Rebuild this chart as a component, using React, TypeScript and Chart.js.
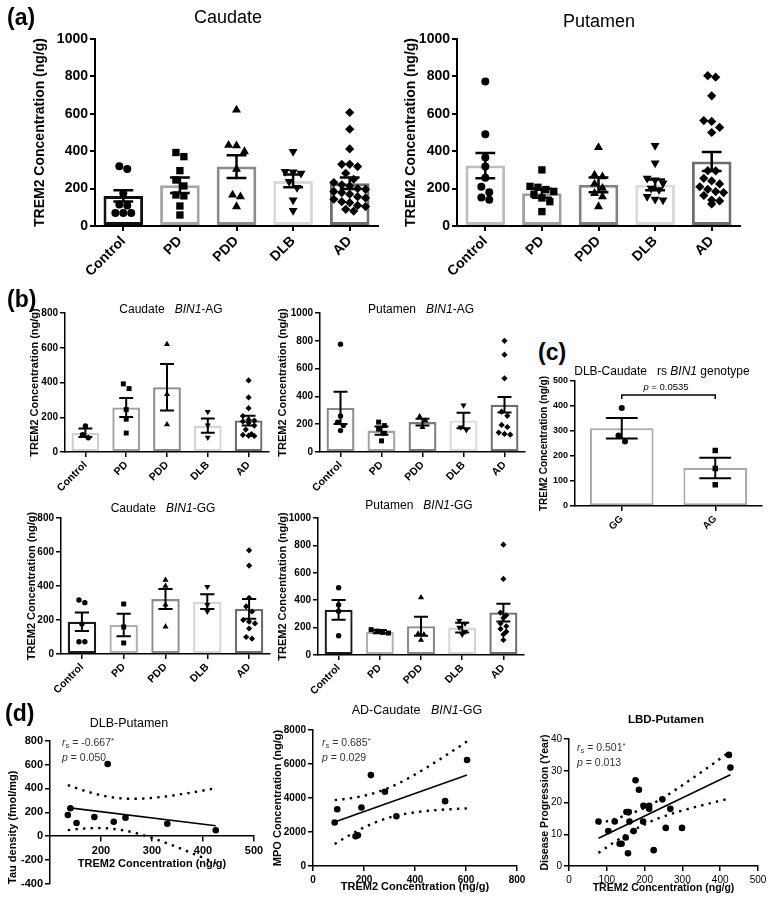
import React, { useEffect, useRef } from 'react';
import { Chart, registerables } from 'chart.js';
Chart.register(...registerables);

const FONT = "'Liberation Sans', Arial, Helvetica, sans-serif";

// ---------- shared categories ----------
const GROUPS = ['Control', 'PD', 'PDD', 'DLB', 'AD'];
const GROUP_STYLES = ['circle', 'rect', 'triangle', 'triangle', 'rectRot'];
const GROUP_ROT = [0, 0, 0, 180, 0];
const TREM2_TITLE = 'TREM2 Concentration (ng/g)';

// ---------- (a) Caudate ----------
const aCaudPts = [
  [320, 305, 175, 115, 110, 70, 70, 70],
  [393, 371, 296, 246, 214, 166, 161, 107, 59],
  [621, 432, 430, 398, 304, 166, 157, 104],
  [398, 291, 288, 282, 238, 205, 139, 82],
  [607, 518, 412, 330, 330, 318, 282, 250, 232, 220, 214, 200, 196, 185, 179, 170, 157, 150, 143, 130, 125, 110, 104, 89, 80],
];
const aCaudMean = [161, 218, 318, 241, 229];
const aCaudSem = [30, 41, 61, 34, 31];
const aCaudColors = ['#111111', '#a6a6a6', '#8c8c8c', '#d9d9d9', '#6e6e6e'];

// ---------- (a) Putamen ----------
const aPutPts = [
  [773, 491, 366, 318, 258, 210, 180, 152, 140],
  [300, 212, 207, 195, 185, 170, 150, 130, 77],
  [420, 273, 264, 225, 202, 175, 157, 104],
  [430, 336, 255, 246, 229, 202, 193, 157, 143, 139],
  [804, 796, 696, 564, 559, 527, 500, 296, 295, 255, 241, 225, 210, 196, 184, 179, 163, 139, 134, 118],
];
const aPutMean = [323, 175, 220, 220, 345];
const aPutSem = [67, 24, 40, 29, 51];
const aPutColors = ['#bdbdbd', '#a0a0a0', '#808080', '#d9d9d9', '#6e6e6e'];

// ---------- (b) Caudate BIN1-AG ----------
const bCaudAGPts = [
  [150, 100, 82],
  [392, 365, 244, 189, 109],
  [620, 332, 158],
  [232, 154, 84],
  [412, 314, 252, 207, 185, 181, 176, 168, 152, 129, 103, 98, 94, 92],
];
const bCaudAGMean = [111, 256, 373, 152, 181];
const bCaudAGSem = [24, 55, 134, 41, 28];
const bCaudAGColors = ['#cfcfcf', '#a0a0a0', '#8a8a8a', '#d4d4d4', '#6e6e6e'];

// ---------- (b) Putamen BIN1-AG ----------
const bPutAGPts = [
  [776, 259, 215, 190, 154],
  [215, 190, 165, 135, 80],
  [256, 227, 178],
  [337, 178, 159],
  [800, 700, 530, 290, 260, 195, 180, 140, 130, 125],
];
const bPutAGMean = [317, 154, 215, 227, 340];
const bPutAGSem = [116, 30, 25, 56, 55];
const bPutAGColors = ['#8a8a8a', '#a0a0a0', '#7a7a7a', '#dadada', '#6e6e6e'];

// ---------- (b) Caudate BIN1-GG ----------
const bCaudGGPts = [
  [318, 302, 176, 72, 72],
  [294, 159, 65],
  [435, 400, 290, 160],
  [396, 290, 250],
  [610, 520, 330, 280, 250, 200, 190, 180, 150, 100, 90],
];
const bCaudGGMean = [190, 171, 323, 308, 265];
const bCaudGGSem = [54, 66, 59, 44, 58];
const bCaudGGColors = ['#1a1a1a', '#b0b0b0', '#8a8a8a', '#d4d4d4', '#6e6e6e'];

// ---------- (b) Putamen BIN1-GG ----------
const bPutGGPts = [
  [491, 366, 320, 140],
  [185, 175, 165, 160],
  [420, 155, 150, 110],
  [250, 230, 200, 170, 150],
  [805, 555, 310, 290, 270, 230, 210, 190, 170, 150, 110],
];
const bPutGGMean = [330, 170, 210, 200, 310];
const bPutGGSem = [72, 12, 70, 35, 65];
const bPutGGColors = ['#1a1a1a', '#b0b0b0', '#8a8a8a', '#d4d4d4', '#6e6e6e'];

// ---------- (c) DLB-Caudate by genotype ----------
const cGenotypes = ['GG', 'AG'];
const cStyles = ['circle', 'rect'];
const cRot = [0, 0];
const cPts = [
  [392, 282, 258],
  [222, 150, 85],
];
const cMean = [311, 152];
const cSem = [41, 41];
const cColors = ['#a8a8a8', '#a8a8a8'];
const cBracketTop = 444;
const cBracketDrop = 428;

// ---------- (d) correlations ----------
const dDlbTrem2 = [135, 140, 152, 187, 213, 225, 248, 330, 425];
const dDlbTau = [178, 234, 110, 160, 604, 121, 154, 104, 50];

const dAdTrem2 = [85, 95, 167, 176, 190, 227, 282, 327, 518, 604];
const dAdMpo = [2556, 3342, 1750, 1809, 3440, 5348, 4365, 2929, 3814, 6232];

const dLbdTrem2 = [78, 104, 121, 134, 139, 150, 152, 156, 158, 160, 171, 176, 185, 196, 197, 212, 212, 224, 247, 256, 268, 299, 423, 427];
const dLbdYears = [14, 11, 14, 7, 7, 9, 17, 4, 17, 14, 11, 27, 24, 14, 19, 19, 18, 5, 21, 12, 18, 12, 35, 31];

// two-sided 95% t critical values by degrees of freedom
const T975 = [0, 12.706, 4.303, 3.182, 2.776, 2.571, 2.447, 2.365, 2.306, 2.262, 2.228, 2.201, 2.179, 2.16, 2.145, 2.131, 2.12, 2.11, 2.101, 2.093, 2.086, 2.08, 2.074, 2.069, 2.064, 2.06, 2.056, 2.052, 2.048, 2.045, 2.042];

type Box = { l: number; t: number; r: number; b: number };
type Area = { x0: number; x1: number; y0: number; y1: number };

const STYLE_SCALE: Record<string, number> = { circle: 1, rect: 1.3, triangle: 1.3, rectRot: 1.15 };
const plain = (v: any) => `${v}`;

function swarm(values: number[], dv: number, step: number, maxRow: number): number[] {
  const idx = values.map((_, i) => i).sort((a, b) => values[b] - values[a]);
  const off = new Array(values.length).fill(0);
  let row: number[] = [];
  const flush = () => {
    row.forEach((id, j) => { off[id] = (j - (row.length - 1) / 2) * step; });
    row = [];
  };
  for (const id of idx) {
    if (row.length && (values[row[0]] - values[id] > dv || row.length >= maxRow)) flush();
    row.push(id);
  }
  flush();
  return off;
}

type GroupCfg = {
  labels: string[]; styles: string[]; rots: number[];
  pts: number[][]; mean: number[]; sem: number[]; colors: string[];
  yMax: number; yStep: number; yTitle: string;
  box: Box; area: Area;
  tickSize: number; titleSize: number; xSize: number;
  barBorder: number; errWidth: number; axisWidth: number; radius: number; barPct: number;
  dv: number; step: number; maxRow: number;
  bracket?: { top: number; drop: number };
};

function groupChart(canvas: HTMLCanvasElement, c: GroupCfg) {
  const n = c.labels.length;
  const barData = c.mean.map((m, i) => ({ x: i, y: m }));
  const scatterSets = c.pts.map((vals, gi) => {
    const off = swarm(vals, c.dv, c.step, c.maxRow);
    const st = c.styles[gi];
    return {
      type: 'scatter' as const,
      data: vals.map((v, k) => ({ x: gi + off[k], y: v })),
      pointStyle: st,
      pointRotation: c.rots[gi],
      pointRadius: c.radius * (STYLE_SCALE[st] ?? 1),
      pointBackgroundColor: '#000',
      pointBorderColor: '#000',
      pointBorderWidth: 0,
      showLine: false,
      order: 1,
    };
  });
  const errPlugin = {
    id: 'errbars',
    afterDatasetsDraw(chart: any) {
      const ctx = chart.ctx;
      const xs = chart.scales.x;
      const ys = chart.scales.y;
      const meta = chart.getDatasetMeta(0);
      ctx.save();
      ctx.strokeStyle = '#000';
      ctx.lineWidth = c.errWidth;
      c.mean.forEach((m: number, i: number) => {
        const x = xs.getPixelForValue(i);
        const bw = meta.data[i] ? meta.data[i].width : 20;
        const cap = bw * 0.25;
        const yt = ys.getPixelForValue(m + c.sem[i]);
        const yb = ys.getPixelForValue(m - c.sem[i]);
        ctx.beginPath();
        ctx.moveTo(x, yt); ctx.lineTo(x, yb);
        ctx.moveTo(x - cap, yt); ctx.lineTo(x + cap, yt);
        ctx.moveTo(x - cap, yb); ctx.lineTo(x + cap, yb);
        ctx.stroke();
      });
      if (c.bracket) {
        const xa = xs.getPixelForValue(0);
        const xb = xs.getPixelForValue(1);
        const yt = ys.getPixelForValue(c.bracket.top);
        const yd = ys.getPixelForValue(c.bracket.drop);
        ctx.lineWidth = 1.5;
        ctx.beginPath();
        ctx.moveTo(xa, yd); ctx.lineTo(xa, yt); ctx.lineTo(xb, yt); ctx.lineTo(xb, yd);
        ctx.stroke();
      }
      ctx.restore();
    },
  };
  const tickFont = { family: FONT, size: c.tickSize, weight: 'bold' as const };
  return new Chart(canvas, {
    type: 'bar',
    data: {
      datasets: [
        {
          type: 'bar',
          data: barData as any,
          backgroundColor: '#ffffff',
          borderColor: c.colors,
          borderWidth: c.barBorder,
          borderSkipped: false,
          barPercentage: c.barPct,
          categoryPercentage: 1,
          order: 2,
        } as any,
        ...(scatterSets as any[]),
      ],
    },
    options: {
      responsive: false,
      animation: false,
      devicePixelRatio: 1,
      layout: { padding: { left: 0, top: c.area.y0 - c.box.t, right: c.box.r - c.area.x1, bottom: 0 } },
      plugins: { legend: { display: false }, tooltip: { enabled: false } },
      scales: {
        x: {
          type: 'linear',
          min: -0.5,
          max: n - 0.5,
          offset: false,
          afterBuildTicks: (s: any) => { s.ticks = c.labels.map((_, i) => ({ value: i })); },
          afterFit: (s: any) => { s.height = c.box.b - c.area.y1; },
          ticks: {
            autoSkip: false, minRotation: 45, maxRotation: 45, padding: 2, color: '#000',
            font: { family: FONT, size: c.xSize, weight: 'bold' },
            callback: (v: any) => c.labels[v as number] ?? '',
          },
          grid: { drawOnChartArea: false, offset: false, color: '#000', lineWidth: c.axisWidth, tickLength: 5 },
          border: { color: '#000', width: c.axisWidth },
        },
        y: {
          type: 'linear',
          min: 0,
          max: c.yMax,
          afterFit: (s: any) => { s.width = c.area.x0 - c.box.l; },
          ticks: { stepSize: c.yStep, padding: 2, color: '#000', font: tickFont, callback: plain },
          title: { display: true, text: c.yTitle, color: '#000', padding: 0, font: { family: FONT, size: c.titleSize, weight: 'bold' } },
          grid: { drawOnChartArea: false, color: '#000', lineWidth: c.axisWidth, tickLength: 5 },
          border: { color: '#000', width: c.axisWidth },
        },
      },
    } as any,
    plugins: [errPlugin],
  });
}

function linFit(xs: number[], ys: number[]) {
  const n = xs.length;
  const mx = xs.reduce((a, b) => a + b, 0) / n;
  const my = ys.reduce((a, b) => a + b, 0) / n;
  let sxx = 0, sxy = 0;
  for (let i = 0; i < n; i++) { sxx += (xs[i] - mx) ** 2; sxy += (xs[i] - mx) * (ys[i] - my); }
  const b = sxy / sxx;
  const a = my - b * mx;
  let sse = 0;
  for (let i = 0; i < n; i++) sse += (ys[i] - a - b * xs[i]) ** 2;
  const s = Math.sqrt(sse / (n - 2));
  const t = T975[Math.min(n - 2, T975.length - 1)];
  return { a, b, ci: (x: number) => t * s * Math.sqrt(1 / n + (x - mx) ** 2 / sxx) };
}

type FitCfg = {
  xs: number[]; ys: number[];
  xMin: number; xMax: number; xStep: number; hideFirstX: boolean;
  yMin: number; yMax: number; yStep: number;
  xTitle: string; yTitle: string; yTitleAlign: 'center' | 'start';
  box: Box; area: Area; xAtZero: boolean; xAxisH: number;
  tickSize: number; tickBold: boolean; titleSize: number; radius: number;
};

function fitChart(canvas: HTMLCanvasElement, c: FitCfg) {
  const f = linFit(c.xs, c.ys);
  const lo = Math.min(...c.xs);
  const hi = Math.max(...c.xs);
  const N = 48;
  const xsGrid = Array.from({ length: N + 1 }, (_, i) => lo + ((hi - lo) * i) / N);
  const fitLine = [{ x: lo, y: f.a + f.b * lo }, { x: hi, y: f.a + f.b * hi }];
  const upper = xsGrid.map((x) => ({ x, y: f.a + f.b * x + f.ci(x) }));
  const lower = xsGrid.map((x) => ({ x, y: f.a + f.b * x - f.ci(x) }));
  const tickFont = { family: FONT, size: c.tickSize, weight: c.tickBold ? ('bold' as const) : ('normal' as const) };
  const titleFont = { family: FONT, size: c.titleSize, weight: 'bold' as const };
  const dotted = { showLine: true, pointRadius: 0, borderColor: '#000', borderWidth: 2.4, borderDash: [2.4, 5.2], fill: false, order: 3 };
  return new Chart(canvas, {
    type: 'scatter',
    data: {
      datasets: [
        { data: c.xs.map((x, i) => ({ x, y: c.ys[i] })), pointRadius: c.radius, pointBackgroundColor: '#000', pointBorderWidth: 0, order: 1 },
        { data: fitLine, showLine: true, pointRadius: 0, borderColor: '#000', borderWidth: 1.6, order: 2 },
        { data: upper, ...dotted },
        { data: lower, ...dotted },
      ] as any,
    },
    options: {
      responsive: false,
      animation: false,
      devicePixelRatio: 1,
      layout: { padding: { left: 0, top: c.area.y0 - c.box.t, right: c.box.r - c.area.x1, bottom: c.xAtZero ? c.box.b - c.area.y1 : 0 } },
      plugins: { legend: { display: false }, tooltip: { enabled: false } },
      scales: {
        x: {
          type: 'linear',
          position: c.xAtZero ? { y: 0 } : 'bottom',
          min: c.xMin,
          max: c.xMax,
          afterBuildTicks: (s: any) => {
            if (c.hideFirstX) s.ticks = s.ticks.filter((t: any) => t.value > c.xMin);
          },
          afterFit: (s: any) => { s.height = c.xAxisH; },
          ticks: { stepSize: c.xStep, padding: 3, color: '#000', font: tickFont, maxRotation: 0, callback: plain },
          title: { display: true, text: c.xTitle, color: '#000', padding: 0, font: titleFont },
          grid: { drawOnChartArea: false, color: '#000', lineWidth: 1.5, tickLength: 5 },
          border: { color: '#000', width: 1.5 },
        },
        y: {
          type: 'linear',
          min: c.yMin,
          max: c.yMax,
          afterFit: (s: any) => { s.width = c.area.x0 - c.box.l; },
          ticks: { stepSize: c.yStep, padding: 2, color: '#000', font: tickFont, callback: plain },
          title: { display: true, text: c.yTitle, color: '#000', padding: 0, align: c.yTitleAlign, font: titleFont },
          grid: { drawOnChartArea: false, color: '#000', lineWidth: 1.5, tickLength: 5 },
          border: { color: '#000', width: 1.5 },
        },
      },
    } as any,
  });
}

function ChartCanvas({ box, build }: { box: Box; build: (c: HTMLCanvasElement) => Chart }) {
  const ref = useRef<HTMLCanvasElement | null>(null);
  useEffect(() => {
    if (!ref.current) return;
    const ch = build(ref.current);
    return () => ch.destroy();
  }, []);
  const w = box.r - box.l;
  const h = box.b - box.t;
  return (
    <canvas
      ref={ref}
      width={w}
      height={h}
      style={{ position: 'absolute', left: box.l, top: box.t, width: w, height: h }}
    />
  );
}

function Txt({ x, y, size, bold, left, color, children }: { x: number; y: number; size: number; bold?: boolean; left?: boolean; color?: string; children: React.ReactNode }) {
  return (
    <div
      style={{
        position: 'absolute', left: x, top: y,
        transform: left ? 'translate(0,-50%)' : 'translate(-50%,-50%)',
        fontSize: size, fontWeight: bold ? 700 : 400, whiteSpace: 'pre', lineHeight: 1,
        fontFamily: FONT, color: color ?? '#000',
      }}
    >
      {children}
    </div>
  );
}

function Stat({ x, y, r, p }: { x: number; y: number; r: string; p: string }) {
  const st: React.CSSProperties = { position: 'absolute', left: x, fontSize: 10.5, fontFamily: FONT, color: '#333', whiteSpace: 'pre', lineHeight: 1 };
  return (
    <>
      <div style={{ ...st, top: y - 6 }}>
        <i>r</i><span style={{ fontSize: 7.5, position: 'relative', top: 2 }}>s</span> = {r}<span style={{ fontSize: 8, position: 'relative', top: -3 }}>*</span>
      </div>
      <div style={{ ...st, top: y + 9 }}>
        <i>p</i> = {p}
      </div>
    </>
  );
}

const A1_BOX: Box = { l: 32, t: 28, r: 385, b: 275 };
const A2_BOX: Box = { l: 403, t: 28, r: 765, b: 275 };
const B1_BOX: Box = { l: 28, t: 303, r: 275, b: 500 };
const B2_BOX: Box = { l: 276, t: 303, r: 530, b: 500 };
const B3_BOX: Box = { l: 25, t: 508, r: 275, b: 700 };
const B4_BOX: Box = { l: 276, t: 508, r: 530, b: 700 };
const C_BOX: Box = { l: 538, t: 372, r: 768, b: 540 };
const D1_BOX: Box = { l: 6, t: 732, r: 268, b: 895 };
const D2_BOX: Box = { l: 271, t: 722, r: 532, b: 894 };
const D3_BOX: Box = { l: 539, t: 731, r: 770, b: 894 };

const groupBase = { labels: GROUPS, styles: GROUP_STYLES, rots: GROUP_ROT, yTitle: TREM2_TITLE };

export default function App() {
  return (
    <div style={{ position: 'absolute', left: 0, top: 0, width: 770, height: 900, background: '#fff', overflow: 'hidden' }}>
      <ChartCanvas box={A1_BOX} build={(cv) => groupChart(cv, {
        ...groupBase, pts: aCaudPts, mean: aCaudMean, sem: aCaudSem, colors: aCaudColors,
        yMax: 1000, yStep: 200, box: A1_BOX, area: { x0: 95, x1: 378, y0: 39, y1: 226 },
        tickSize: 14, titleSize: 14, xSize: 14, barBorder: 3, errWidth: 2.5, axisWidth: 2, radius: 4, barPct: 0.7,
        dv: 40, step: 0.14, maxRow: 7,
      })} />
      <ChartCanvas box={A2_BOX} build={(cv) => groupChart(cv, {
        ...groupBase, pts: aPutPts, mean: aPutMean, sem: aPutSem, colors: aPutColors,
        yMax: 1000, yStep: 200, box: A2_BOX, area: { x0: 457, x1: 740, y0: 39, y1: 226 },
        tickSize: 14, titleSize: 14, xSize: 14, barBorder: 3, errWidth: 2.5, axisWidth: 2, radius: 4, barPct: 0.7,
        dv: 40, step: 0.14, maxRow: 7,
      })} />
      <ChartCanvas box={B1_BOX} build={(cv) => groupChart(cv, {
        ...groupBase, pts: bCaudAGPts, mean: bCaudAGMean, sem: bCaudAGSem, colors: bCaudAGColors,
        yMax: 800, yStep: 200, box: B1_BOX, area: { x0: 65, x1: 269, y0: 313, y1: 452 },
        tickSize: 10, titleSize: 11, xSize: 10.5, barBorder: 2.3, errWidth: 2, axisWidth: 1.5, radius: 2.7, barPct: 0.68,
        dv: 30, step: 0.14, maxRow: 7,
      })} />
      <ChartCanvas box={B2_BOX} build={(cv) => groupChart(cv, {
        ...groupBase, pts: bPutAGPts, mean: bPutAGMean, sem: bPutAGSem, colors: bPutAGColors,
        yMax: 1000, yStep: 200, box: B2_BOX, area: { x0: 320, x1: 525, y0: 313, y1: 452 },
        tickSize: 10, titleSize: 11, xSize: 10.5, barBorder: 2.3, errWidth: 2, axisWidth: 1.5, radius: 2.7, barPct: 0.68,
        dv: 38, step: 0.14, maxRow: 7,
      })} />
      <ChartCanvas box={B3_BOX} build={(cv) => groupChart(cv, {
        ...groupBase, pts: bCaudGGPts, mean: bCaudGGMean, sem: bCaudGGSem, colors: bCaudGGColors,
        yMax: 800, yStep: 200, box: B3_BOX, area: { x0: 61, x1: 270, y0: 518, y1: 654 },
        tickSize: 10, titleSize: 11, xSize: 10.5, barBorder: 2.3, errWidth: 2, axisWidth: 1.5, radius: 2.7, barPct: 0.68,
        dv: 30, step: 0.14, maxRow: 7,
      })} />
      <ChartCanvas box={B4_BOX} build={(cv) => groupChart(cv, {
        ...groupBase, pts: bPutGGPts, mean: bPutGGMean, sem: bPutGGSem, colors: bPutGGColors,
        yMax: 1000, yStep: 200, box: B4_BOX, area: { x0: 318, x1: 524, y0: 518, y1: 655 },
        tickSize: 10, titleSize: 11, xSize: 10.5, barBorder: 2.3, errWidth: 2, axisWidth: 1.5, radius: 2.7, barPct: 0.68,
        dv: 38, step: 0.14, maxRow: 7,
      })} />
      <ChartCanvas box={C_BOX} build={(cv) => groupChart(cv, {
        labels: cGenotypes, styles: cStyles, rots: cRot, yTitle: TREM2_TITLE,
        pts: cPts, mean: cMean, sem: cSem, colors: cColors,
        yMax: 500, yStep: 100, box: C_BOX, area: { x0: 575, x1: 762, y0: 381, y1: 506 },
        tickSize: 9, titleSize: 10, xSize: 10, barBorder: 2, errWidth: 2, axisWidth: 1.5, radius: 3, barPct: 0.68,
        dv: 24, step: 0.07, maxRow: 5, bracket: { top: cBracketTop, drop: cBracketDrop },
      })} />
      <ChartCanvas box={D1_BOX} build={(cv) => fitChart(cv, {
        xs: dDlbTrem2, ys: dDlbTau, xMin: 100, xMax: 500, xStep: 100, hideFirstX: true,
        yMin: -400, yMax: 800, yStep: 200, xTitle: TREM2_TITLE, yTitle: 'Tau density (fmol/mg)', yTitleAlign: 'start',
        box: D1_BOX, area: { x0: 50, x1: 254, y0: 740, y1: 884 }, xAtZero: true, xAxisH: 34,
        tickSize: 11, tickBold: true, titleSize: 11, radius: 3.3,
      })} />
      <ChartCanvas box={D2_BOX} build={(cv) => fitChart(cv, {
        xs: dAdTrem2, ys: dAdMpo, xMin: 0, xMax: 800, xStep: 200, hideFirstX: false,
        yMin: 0, yMax: 8000, yStep: 2000, xTitle: TREM2_TITLE, yTitle: 'MPO Concentration (ng/g)', yTitleAlign: 'center',
        box: D2_BOX, area: { x0: 313, x1: 517, y0: 730, y1: 866 }, xAtZero: false, xAxisH: 28,
        tickSize: 10, tickBold: true, titleSize: 11, radius: 3.3,
      })} />
      <ChartCanvas box={D3_BOX} build={(cv) => fitChart(cv, {
        xs: dLbdTrem2, ys: dLbdYears, xMin: 0, xMax: 500, xStep: 100, hideFirstX: false,
        yMin: 0, yMax: 40, yStep: 10, xTitle: TREM2_TITLE, yTitle: 'Disease Progression (Year)', yTitleAlign: 'center',
        box: D3_BOX, area: { x0: 569, x1: 758, y0: 739, y1: 866 }, xAtZero: false, xAxisH: 28,
        tickSize: 10, tickBold: false, titleSize: 10.5, radius: 3.3,
      })} />

      <Txt x={7} y={17} size={23} bold left>(a)</Txt>
      <Txt x={228} y={17} size={18}>Caudate</Txt>
      <Txt x={599} y={21} size={18}>Putamen</Txt>

      <Txt x={7} y={299} size={23} bold left>(b)</Txt>
      <Txt x={171} y={309} size={12}>{'Caudate   '}<i>BIN1</i>-AG</Txt>
      <Txt x={421} y={309} size={12}>{'Putamen   '}<i>BIN1</i>-AG</Txt>
      <Txt x={163} y={508} size={12}>{'Caudate   '}<i>BIN1</i>-GG</Txt>
      <Txt x={419} y={505} size={12}>{'Putamen   '}<i>BIN1</i>-GG</Txt>

      <Txt x={538} y={352} size={23} bold left>(c)</Txt>
      <Txt x={662} y={371} size={12}>{'DLB-Caudate   rs '}<i>BIN1</i> genotype</Txt>
      <Txt x={666} y={387} size={9.5}><i>p</i> = 0.0535</Txt>

      <Txt x={5} y={713} size={23} bold left>(d)</Txt>
      <Txt x={129} y={723} size={12.5}>DLB-Putamen</Txt>
      <Txt x={417} y={710} size={12.5}>{'AD-Caudate   '}<i>BIN1</i>-GG</Txt>
      <Txt x={666} y={720} size={11.5} bold>LBD-Putamen</Txt>

      <Stat x={62} y={743} r="-0.667" p="0.050" />
      <Stat x={322} y={743} r="0.685" p="0.029" />
      <Stat x={577} y={748} r="0.501" p="0.013" />
    </div>
  );
}
